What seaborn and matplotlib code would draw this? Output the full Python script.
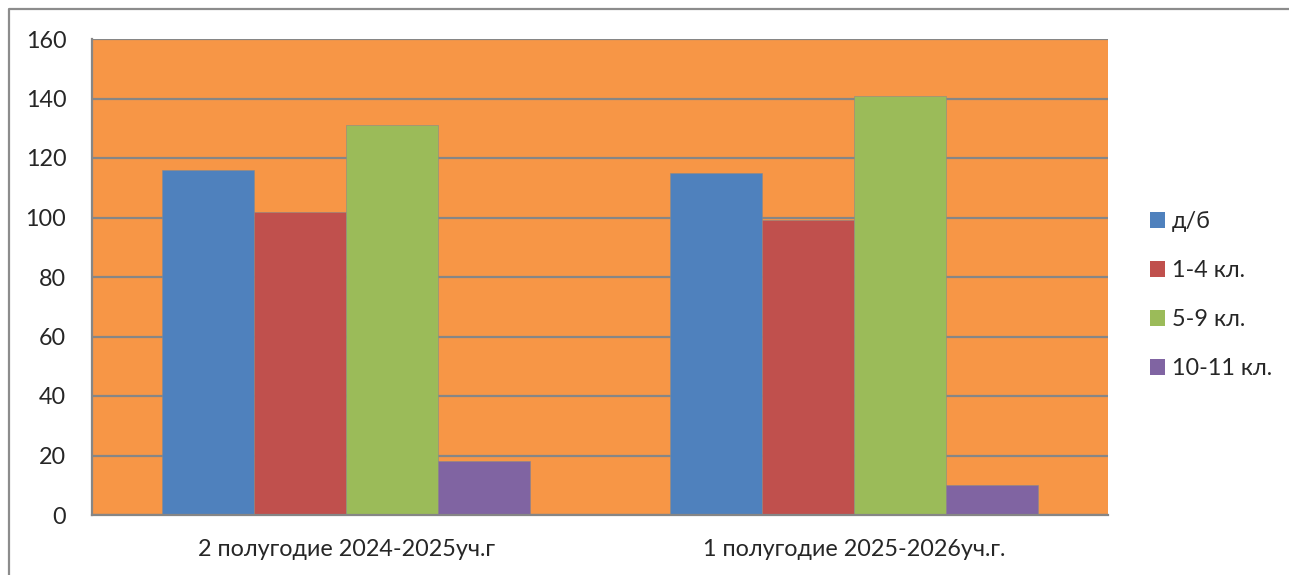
import numpy as np
import pandas as pd
import matplotlib.pyplot as plt
import seaborn as sns
from matplotlib.lines import Line2D
from matplotlib.patches import Patch

# ==========================================
# Data
# ==========================================
periods = ['2 полугодие 2024-2025уч.г', '1 полугодие 2025-2026уч.г.']
groups = ['д/б', '1-4 кл.', '5-9 кл.', '10-11 кл.']
values = {
    'д/б': [116, 115],
    '1-4 кл.': [102, 99],
    '5-9 кл.': [131, 141],
    '10-11 кл.': [18, 10],
}
colors = ['#4F81BD', '#C0504D', '#9BBB59', '#8064A2']

rows = []
for g in groups:
    for p, v in zip(periods, values[g]):
        rows.append({'period': p, 'group': g, 'value': v})
df = pd.DataFrame(rows)

# ==========================================
# Plot
# ==========================================
sns.set_style("white")
plt.rcParams['font.family'] = ['Lato', 'DejaVu Sans']
FS = 16.8

fig = plt.figure(figsize=(12.89, 5.75), dpi=100)
ax = fig.add_axes([92 / 1289, 1 - 515 / 575, (1108 - 92) / 1289, (515 - 39) / 575])

sns.barplot(data=df, x='period', y='value', hue='group', hue_order=groups,
            palette=colors, width=0.726, gap=0, ax=ax, legend=False,
            edgecolor='#8a8a8a', linewidth=0.4, saturation=1)

ax.set_facecolor('#F79646')
ax.set_ylim(0, 160)
ax.set_xlim(-0.5, 1.5)
ax.set_yticks(np.arange(0, 161, 20))
ax.yaxis.grid(True, color='#868686', linewidth=1.6)
ax.set_axisbelow(True)
ax.set_xlabel('')
ax.set_ylabel('')

for s in ['top', 'right']:
    ax.spines[s].set_visible(False)
for s in ['left', 'bottom']:
    ax.spines[s].set_color('#868686')
    ax.spines[s].set_linewidth(1.6)

ax.tick_params(axis='y', length=6, width=1.6, color='#868686', labelsize=FS, pad=12.5)
ax.tick_params(axis='x', which='major', length=0, labelsize=FS, pad=17)
ax.set_xticks([-0.5, 0.5, 1.5], minor=True)
ax.tick_params(axis='x', which='minor', length=6, width=1.6, color='#868686')

# Legend
handles = [Patch(facecolor=c, edgecolor='none') for c in colors]
leg = fig.legend(handles, groups, loc='center left',
                 bbox_to_anchor=(1129 / 1289, 1 - 295 / 575), frameon=False,
                 fontsize=FS, handlelength=0.65, handleheight=0.65,
                 handletextpad=0.3, labelspacing=1.2)

# Outer border
fig.add_artist(Line2D([9 / 1289, 9 / 1289, 1.0], [0.0, 1 - 9 / 575, 1 - 9 / 575],
                      transform=fig.transFigure, color='#8c8c8c', linewidth=1.6))

fig.savefig('out.png', dpi=100)
